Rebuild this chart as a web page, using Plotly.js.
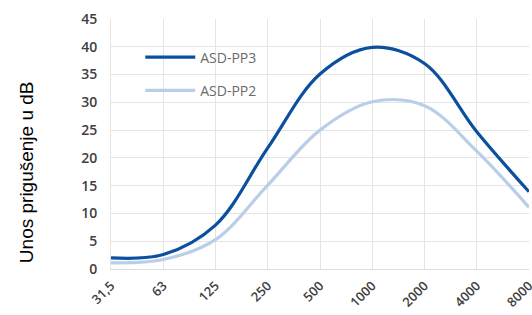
<!DOCTYPE html>
<html>
<head>
<meta charset="utf-8">
<script src="https://cdn.plot.ly/plotly-3.0.1.min.js"></script>
<style>
  html, body { margin: 0; padding: 0; background: #fff; }
  #chart { width: 532px; height: 315px; }
</style>
</head>
<body>
<div id="chart"></div>
<script>
const frequencies = ['31,5', '63', '125', '250', '500', '1000', '2000', '4000', '8000'];
const asdPP3 = [2.0, 2.6, 7.9, 21.8, 35.1, 39.9, 37.0, 24.7, 13.9];
const asdPP2 = [1.1, 1.7, 5.3, 15.1, 25.0, 30.1, 29.4, 21.2, 11.1];
const yTicks = [0, 5, 10, 15, 20, 25, 30, 35, 40, 45];

const traces = [
  {
    x: frequencies, y: asdPP3, name: 'ASD-PP3', type: 'scatter', mode: 'lines',
    line: { color: '#0B4F9F', width: 3.2, shape: 'spline', smoothing: 1.0 },
    legendgroup: 'a'
  },
  {
    x: frequencies, y: asdPP2, name: 'ASD-PP2', type: 'scatter', mode: 'lines',
    line: { color: '#B9CEE8', width: 3.2, shape: 'spline', smoothing: 1.0 },
    legendgroup: 'b'
  }
];

const layout = {
  width: 532, height: 315,
  margin: { l: 111, r: 3, t: 19, b: 46 },
  paper_bgcolor: '#ffffff', plot_bgcolor: '#ffffff',
  font: { family: 'Open Sans, sans-serif', color: '#404040' },
  xaxis: {
    type: 'category', range: [0, 8],
    tickangle: -45,
    tickfont: { size: 13, color: '#404040', weight: 600 },
    showgrid: true, gridcolor: '#e4e4e4', gridwidth: 1,
    showline: true, linecolor: '#dcdcdc', linewidth: 1,
    ticks: 'outside', ticklen: 3, tickcolor: 'rgba(0,0,0,0)',
    zeroline: false, fixedrange: true
  },
  yaxis: {
    range: [0, 45], tickvals: yTicks,
    tickfont: { size: 14, color: '#404040', weight: 600 },
    showgrid: true, gridcolor: '#e4e4e4', gridwidth: 1,
    showline: true, linecolor: '#e4e4e4',
    ticks: 'outside', ticklen: 10, tickcolor: 'rgba(0,0,0,0)',
    zeroline: false, fixedrange: true
  },
  showlegend: true,
  legend: {
    x: 0.07, y: 0.91, xanchor: 'left', yanchor: 'top',
    bgcolor: 'rgba(0,0,0,0)', borderwidth: 0,
    font: { size: 14, color: '#6a6a6a' },
    traceorder: 'grouped', tracegroupgap: 12,
    itemwidth: 50
  },
  annotations: [
    {
      text: 'Unos prigušenje u dB', textangle: -90,
      xref: 'paper', yref: 'paper',
      x: -0.203, y: 0.388, xanchor: 'center', yanchor: 'middle',
      showarrow: false,
      font: { family: 'Liberation Sans, Arial, sans-serif', size: 19, color: '#000000' }
    }
  ]
};

Plotly.newPlot('chart', traces, layout, { displayModeBar: false, staticPlot: true });
</script>
</body>
</html>
